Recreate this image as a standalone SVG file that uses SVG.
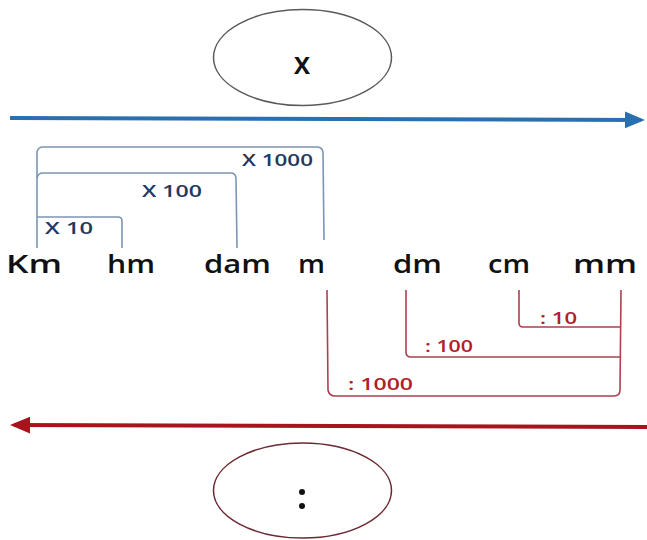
<svg xmlns="http://www.w3.org/2000/svg" width="647" height="540" viewBox="0 0 647 540">
<defs>
<style>
.unit{font-family:"Open Sans","Liberation Sans",sans-serif;font-weight:600;font-size:26px;fill:#111}
.bl{font-family:"Open Sans","Liberation Sans",sans-serif;font-weight:600;font-size:17px;fill:#22385e}
.rl{font-family:"Open Sans","Liberation Sans",sans-serif;font-weight:600;font-size:17px;fill:#b0202a}
.bb{fill:none;stroke:#7d95b5;stroke-width:1.6}
.rb{fill:none;stroke:#a8424e;stroke-width:1.6}
.sym{font-family:"Open Sans","Liberation Sans",sans-serif;font-weight:700;fill:#111;text-anchor:middle}
</style>
<marker id="ab" markerWidth="5" markerHeight="5" refX="4" refY="2.5" orient="auto" markerUnits="strokeWidth"><path d="M0,0.4 L5,2.5 L0,4.6 Z" fill="#2a6fb0"/></marker>
<marker id="ar" markerWidth="5" markerHeight="5" refX="4" refY="2.5" orient="auto" markerUnits="strokeWidth"><path d="M0,0.4 L5,2.5 L0,4.6 Z" fill="#a8141c"/></marker>
</defs>
<rect width="647" height="540" fill="#fff"/>
<g id="multiply">
<ellipse cx="302.5" cy="57.5" rx="89" ry="48" fill="none" stroke="#5a5a5a" stroke-width="1.5"/>
<text class="sym" x="302" y="74" font-size="24">X</text>
</g>
<g id="divide">
<ellipse cx="302.5" cy="490.5" rx="89" ry="47.5" fill="none" stroke="#6a2a30" stroke-width="1.5"/>
<circle cx="302" cy="492" r="3" fill="#111"/>
<circle cx="302" cy="506" r="3" fill="#111"/>
</g>
<g id="units">
<text class="unit" x="6" y="273" textLength="56" lengthAdjust="spacingAndGlyphs">Km</text>
<text class="unit" x="107" y="273" textLength="48" lengthAdjust="spacingAndGlyphs">hm</text>
<text class="unit" x="204" y="273" textLength="67" lengthAdjust="spacingAndGlyphs">dam</text>
<text class="unit" x="298" y="273" textLength="27" lengthAdjust="spacingAndGlyphs">m</text>
<text class="unit" x="393" y="273" textLength="49" lengthAdjust="spacingAndGlyphs">dm</text>
<text class="unit" x="488" y="273" textLength="42" lengthAdjust="spacingAndGlyphs">cm</text>
<text class="unit" x="573" y="273" textLength="64" lengthAdjust="spacingAndGlyphs">mm</text>
</g>
<g id="connectors">
<line x1="10" y1="118" x2="641" y2="120" stroke="#2a6fb0" stroke-width="4" marker-end="url(#ab)"/>
<line x1="647" y1="427" x2="14" y2="425" stroke="#a8141c" stroke-width="4" marker-end="url(#ar)"/>
<path class="bb" d="M37,248 L37,152 Q38,147 43,147 L318,147 Q323,148 323,153 L324,240"/>
<path class="bb" d="M37,178 Q38,173 43,173 L232,173 Q236,174 236,179 L237,248"/>
<path class="bb" d="M37,217 L118,217 Q122,217 122,221 L122,248"/>
<path class="rb" d="M327,290 L328,390 Q329,396 335,396 L614,396 Q620,396 620,390 L621,290"/>
<path class="rb" d="M406,290 L406,352 Q406,357 411,357 L620,357"/>
<path class="rb" d="M519,290 L519,323 Q519,327 523,327 L620,327"/>
</g>
<g id="labels">
<text class="bl" x="242" y="166" textLength="71" lengthAdjust="spacingAndGlyphs">X 1000</text>
<text class="bl" x="142" y="197" textLength="60" lengthAdjust="spacingAndGlyphs">X 100</text>
<text class="bl" x="45" y="234" textLength="48" lengthAdjust="spacingAndGlyphs">X 10</text>
<text class="rl" x="540" y="324" textLength="37" lengthAdjust="spacingAndGlyphs">: 10</text>
<text class="rl" x="425" y="352" textLength="48" lengthAdjust="spacingAndGlyphs">: 100</text>
<text class="rl" x="348" y="390" textLength="65" lengthAdjust="spacingAndGlyphs">: 1000</text>
</g>
</svg>
